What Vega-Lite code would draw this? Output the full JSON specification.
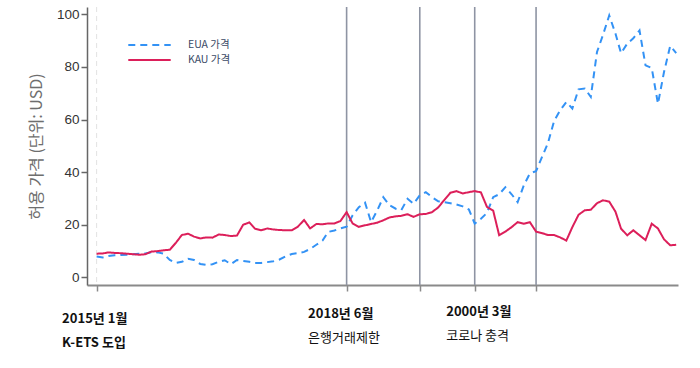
{
  "$schema": "https://vega.github.io/schema/vega-lite/v6.json",
  "width": 591,
  "height": 278,
  "autosize": {"type": "none"},
  "padding": {"left": 87, "top": 7, "right": 22, "bottom": 83},
  "background": "white",
  "config": {"view": {"stroke": null}, "font": "Noto Sans CJK KR"},
  "datasets": {
    "events": [
      {"date": "2015-01-01", "kind": "start"},
      {"date": "2018-06-01", "kind": "event"},
      {"date": "2019-06-01", "kind": "event"},
      {"date": "2020-03-01", "kind": "event"},
      {"date": "2021-01-01", "kind": "event"}
    ],
    "prices": [
      {"date": "2015-01-01", "EUA": 7.9, "KAU": 9.0},
      {"date": "2015-02-01", "EUA": 7.6, "KAU": 9.1},
      {"date": "2015-03-01", "EUA": 8.1, "KAU": 9.5},
      {"date": "2015-04-01", "EUA": 8.4, "KAU": 9.3},
      {"date": "2015-05-01", "EUA": 8.5, "KAU": 9.2},
      {"date": "2015-06-01", "EUA": 8.6, "KAU": 9.0},
      {"date": "2015-07-01", "EUA": 8.8, "KAU": 8.8},
      {"date": "2015-08-01", "EUA": 9.0, "KAU": 8.6},
      {"date": "2015-09-01", "EUA": 9.1, "KAU": 8.8},
      {"date": "2015-10-01", "EUA": 9.6, "KAU": 9.8},
      {"date": "2015-11-01", "EUA": 9.5, "KAU": 10.0},
      {"date": "2015-12-01", "EUA": 9.0, "KAU": 10.3},
      {"date": "2016-01-01", "EUA": 6.6, "KAU": 10.5},
      {"date": "2016-02-01", "EUA": 5.5, "KAU": 13.2},
      {"date": "2016-03-01", "EUA": 5.9, "KAU": 16.1},
      {"date": "2016-04-01", "EUA": 7.1, "KAU": 16.6},
      {"date": "2016-05-01", "EUA": 6.6, "KAU": 15.5},
      {"date": "2016-06-01", "EUA": 5.1, "KAU": 14.8},
      {"date": "2016-07-01", "EUA": 4.8, "KAU": 15.2},
      {"date": "2016-08-01", "EUA": 5.0, "KAU": 15.1},
      {"date": "2016-09-01", "EUA": 5.9, "KAU": 16.3},
      {"date": "2016-10-01", "EUA": 6.5, "KAU": 16.1},
      {"date": "2016-11-01", "EUA": 5.0, "KAU": 15.7},
      {"date": "2016-12-01", "EUA": 6.6, "KAU": 15.9},
      {"date": "2017-01-01", "EUA": 6.2, "KAU": 20.0},
      {"date": "2017-02-01", "EUA": 5.9, "KAU": 20.9},
      {"date": "2017-03-01", "EUA": 5.5, "KAU": 18.5},
      {"date": "2017-04-01", "EUA": 5.5, "KAU": 17.9},
      {"date": "2017-05-01", "EUA": 5.8, "KAU": 18.6},
      {"date": "2017-06-01", "EUA": 6.1, "KAU": 18.2},
      {"date": "2017-07-01", "EUA": 6.8, "KAU": 18.0},
      {"date": "2017-08-01", "EUA": 8.0, "KAU": 17.9},
      {"date": "2017-09-01", "EUA": 8.9, "KAU": 17.9},
      {"date": "2017-10-01", "EUA": 9.2, "KAU": 19.3},
      {"date": "2017-11-01", "EUA": 9.7, "KAU": 21.8},
      {"date": "2017-12-01", "EUA": 10.8, "KAU": 18.6},
      {"date": "2018-01-01", "EUA": 12.4, "KAU": 20.3},
      {"date": "2018-02-01", "EUA": 14.0, "KAU": 20.2},
      {"date": "2018-03-01", "EUA": 17.3, "KAU": 20.5},
      {"date": "2018-04-01", "EUA": 17.8, "KAU": 20.5},
      {"date": "2018-05-01", "EUA": 18.6, "KAU": 21.4},
      {"date": "2018-06-01", "EUA": 19.3, "KAU": 24.8},
      {"date": "2018-07-01", "EUA": 23.6, "KAU": 20.5},
      {"date": "2018-08-01", "EUA": 26.7, "KAU": 19.2},
      {"date": "2018-09-01", "EUA": 28.4, "KAU": 19.8},
      {"date": "2018-10-01", "EUA": 21.0, "KAU": 20.3},
      {"date": "2018-11-01", "EUA": 25.5, "KAU": 20.8},
      {"date": "2018-12-01", "EUA": 30.5, "KAU": 21.7},
      {"date": "2019-01-01", "EUA": 27.4, "KAU": 22.8},
      {"date": "2019-02-01", "EUA": 26.1, "KAU": 23.2},
      {"date": "2019-03-01", "EUA": 25.6, "KAU": 23.4},
      {"date": "2019-04-01", "EUA": 29.9, "KAU": 24.0},
      {"date": "2019-05-01", "EUA": 28.0, "KAU": 23.0},
      {"date": "2019-06-01", "EUA": 31.2, "KAU": 24.0},
      {"date": "2019-07-01", "EUA": 32.4, "KAU": 24.1},
      {"date": "2019-08-01", "EUA": 30.5, "KAU": 24.8},
      {"date": "2019-09-01", "EUA": 28.9, "KAU": 26.6},
      {"date": "2019-10-01", "EUA": 28.6, "KAU": 29.4},
      {"date": "2019-11-01", "EUA": 28.2, "KAU": 32.2},
      {"date": "2019-12-01", "EUA": 27.7, "KAU": 32.8},
      {"date": "2020-01-01", "EUA": 27.0, "KAU": 31.9},
      {"date": "2020-02-01", "EUA": 25.8, "KAU": 32.4},
      {"date": "2020-03-01", "EUA": 20.4, "KAU": 32.8},
      {"date": "2020-04-01", "EUA": 22.3, "KAU": 32.3},
      {"date": "2020-05-01", "EUA": 24.5, "KAU": 26.8},
      {"date": "2020-06-01", "EUA": 30.5, "KAU": 25.4},
      {"date": "2020-07-01", "EUA": 31.6, "KAU": 16.0},
      {"date": "2020-08-01", "EUA": 34.3, "KAU": 17.4},
      {"date": "2020-09-01", "EUA": 31.6, "KAU": 19.1},
      {"date": "2020-10-01", "EUA": 28.6, "KAU": 21.0},
      {"date": "2020-11-01", "EUA": 35.0, "KAU": 20.4},
      {"date": "2020-12-01", "EUA": 39.5, "KAU": 21.0},
      {"date": "2021-01-01", "EUA": 40.4, "KAU": 17.4},
      {"date": "2021-02-01", "EUA": 46.0, "KAU": 16.8},
      {"date": "2021-03-01", "EUA": 51.0, "KAU": 16.1},
      {"date": "2021-04-01", "EUA": 59.5, "KAU": 16.1},
      {"date": "2021-05-01", "EUA": 63.5, "KAU": 15.2},
      {"date": "2021-06-01", "EUA": 66.7, "KAU": 14.0},
      {"date": "2021-07-01", "EUA": 64.2, "KAU": 19.1},
      {"date": "2021-08-01", "EUA": 71.5, "KAU": 23.8},
      {"date": "2021-09-01", "EUA": 71.8, "KAU": 25.5},
      {"date": "2021-10-01", "EUA": 68.6, "KAU": 25.7},
      {"date": "2021-11-01", "EUA": 85.7, "KAU": 28.2},
      {"date": "2021-12-01", "EUA": 92.2, "KAU": 29.3},
      {"date": "2022-01-01", "EUA": 99.6, "KAU": 28.8},
      {"date": "2022-02-01", "EUA": 92.7, "KAU": 25.0},
      {"date": "2022-03-01", "EUA": 85.2, "KAU": 18.5},
      {"date": "2022-04-01", "EUA": 88.9, "KAU": 16.0},
      {"date": "2022-05-01", "EUA": 90.9, "KAU": 17.9},
      {"date": "2022-06-01", "EUA": 93.9, "KAU": 16.0},
      {"date": "2022-07-01", "EUA": 80.6, "KAU": 14.2},
      {"date": "2022-08-01", "EUA": 79.6, "KAU": 20.4},
      {"date": "2022-09-01", "EUA": 66.0, "KAU": 18.6},
      {"date": "2022-10-01", "EUA": 78.0, "KAU": 14.5},
      {"date": "2022-11-01", "EUA": 88.0, "KAU": 12.2},
      {"date": "2022-12-01", "EUA": 85.3, "KAU": 12.4}
    ]
  },
  "resolve": {"axis": {"x": "independent"}},
  "layer": [
    {
      "data": {"name": "events"},
      "transform": [{"filter": "datum.kind == 'start'"}],
      "mark": {"type": "rule", "color": "#e2e2e2", "strokeDash": [5, 4], "strokeWidth": 1},
      "encoding": {
        "x": {
          "field": "date", "type": "temporal",
          "scale": {"domain": [{"year": 2014, "month": 11, "date": 14, "utc": true}, {"year": 2022, "month": 12, "date": 10, "utc": true}]},
          "axis": null
        }
      }
    },
    {
      "data": {"name": "events"},
      "transform": [{"filter": "datum.kind == 'event'"}],
      "mark": {"type": "rule", "color": "#8e94a3", "strokeWidth": 1.6},
      "encoding": {
        "x": {
          "field": "date", "type": "temporal",
          "scale": {"domain": [{"year": 2014, "month": 11, "date": 14, "utc": true}, {"year": 2022, "month": 12, "date": 10, "utc": true}]},
          "axis": {
            "orient": "bottom",
            "title": null,
            "grid": false,
            "values": [
              {"year": 2015, "month": 1, "date": 1, "utc": true},
              {"year": 2018, "month": 6, "date": 1, "utc": true},
              {"year": 2019, "month": 6, "date": 1, "utc": true},
              {"year": 2020, "month": 3, "date": 1, "utc": true},
              {"year": 2021, "month": 1, "date": 1, "utc": true}
            ],
            "domainColor": "#8a8a8a",
            "domainWidth": 2,
            "tickColor": "#8a8a8a",
            "tickWidth": 1.5,
            "tickSize": 6,
            "labelExpr": "utcyear(datum.value) == 2015 ? '2015년 1월' : (utcyear(datum.value) == 2018 ? '2018년 6월' : (utcyear(datum.value) == 2020 ? '2000년 3월' : ''))",
            "labelFont": "Noto Sans CJK KR",
            "labelFontSize": 13,
            "labelFontWeight": "bold",
            "labelColor": "#111111",
            "labelAlign": "left",
            "labelBaseline": "middle",
            "labelOffset": {"condition": [{"test": "utcyear(datum.value) == 2015", "value": -35}, {"test": "utcyear(datum.value) == 2018", "value": -39}], "value": -29},
            "labelPadding": {"condition": [{"test": "utcyear(datum.value) == 2015", "value": 27}, {"test": "utcyear(datum.value) == 2018", "value": 22}], "value": 20},
            "labelOverlap": false,
            "labelBound": false,
            "labelFlush": false
          }
        }
      }
    },
    {
      "data": {"name": "prices"},
      "transform": [{"fold": ["EUA", "KAU"], "as": ["series", "price"]}],
      "mark": {"type": "line", "strokeWidth": 2},
      "encoding": {
        "x": {
          "field": "date", "type": "temporal",
          "scale": {"domain": [{"year": 2014, "month": 11, "date": 14, "utc": true}, {"year": 2022, "month": 12, "date": 10, "utc": true}]},
          "axis": {
            "orient": "bottom",
            "title": null,
            "grid": false,
            "domain": false,
            "ticks": true,
            "tickOpacity": 0,
            "tickSize": 6,
            "values": [
              {"year": 2015, "month": 1, "date": 1, "utc": true},
              {"year": 2018, "month": 6, "date": 1, "utc": true},
              {"year": 2020, "month": 3, "date": 1, "utc": true}
            ],
            "labelExpr": "utcyear(datum.value) == 2015 ? 'K-ETS 도입' : (utcyear(datum.value) == 2018 ? '은행거래제한' : '코로나 충격')",
            "labelFont": "Noto Sans CJK KR",
            "labelFontSize": 13,
            "labelFontWeight": {"condition": {"test": "utcyear(datum.value) == 2015", "value": "bold"}, "value": "normal"},
            "labelColor": "#111111",
            "labelAlign": "left",
            "labelBaseline": "middle",
            "labelOffset": {"condition": [{"test": "utcyear(datum.value) == 2015", "value": -35}, {"test": "utcyear(datum.value) == 2018", "value": -39}], "value": -29},
            "labelPadding": {"condition": [{"test": "utcyear(datum.value) == 2015", "value": 51}, {"test": "utcyear(datum.value) == 2018", "value": 46}], "value": 44},
            "labelOverlap": false,
            "labelBound": false,
            "labelFlush": false
          }
        },
        "y": {
          "field": "price", "type": "quantitative",
          "scale": {"domain": [-2.9, 102.8], "nice": false, "zero": false},
          "axis": {
            "title": "허용 가격 (단위: USD)",
            "titleFont": "Noto Sans CJK KR",
            "titleFontSize": 16,
            "titleFontWeight": "normal",
            "titleColor": "#6e6e6e",
            "titlePadding": 12,
            "values": [0, 20, 40, 60, 80, 100],
            "grid": false,
            "domainColor": "#666666",
            "domainWidth": 1.5,
            "tickColor": "#666666",
            "tickWidth": 1.5,
            "tickSize": 6,
            "labelFont": "Liberation Sans",
            "labelFontSize": 13.5,
            "labelColor": "#333333",
            "labelPadding": 2
          }
        },
        "color": {
          "field": "series", "type": "nominal",
          "scale": {"domain": ["EUA", "KAU"], "range": ["#3392f5", "#dc1f5a"]},
          "legend": {
            "title": null, "orient": "none", "legendX": 40, "legendY": 30.5,
            "symbolType": "stroke", "symbolSize": 1800, "symbolStrokeWidth": 2, "clipHeight": 15,
            "labelFont": "Noto Sans CJK KR", "labelFontSize": 10.5, "labelColor": "#3b4a66",
            "labelOffset": 16, "labelExpr": "datum.label + ' 가격'", "rowPadding": 0, "padding": 0
          }
        },
        "strokeDash": {
          "field": "series", "type": "nominal",
          "scale": {"domain": ["EUA", "KAU"], "range": [[7, 5], [1, 0]]},
          "legend": {
            "title": null, "orient": "none", "legendX": 40, "legendY": 30.5,
            "symbolType": "stroke", "symbolSize": 1800, "symbolStrokeWidth": 2, "clipHeight": 15,
            "labelFont": "Noto Sans CJK KR", "labelFontSize": 10.5, "labelColor": "#3b4a66",
            "labelOffset": 16, "labelExpr": "datum.label + ' 가격'", "rowPadding": 0, "padding": 0
          }
        }
      }
    }
  ]
}
